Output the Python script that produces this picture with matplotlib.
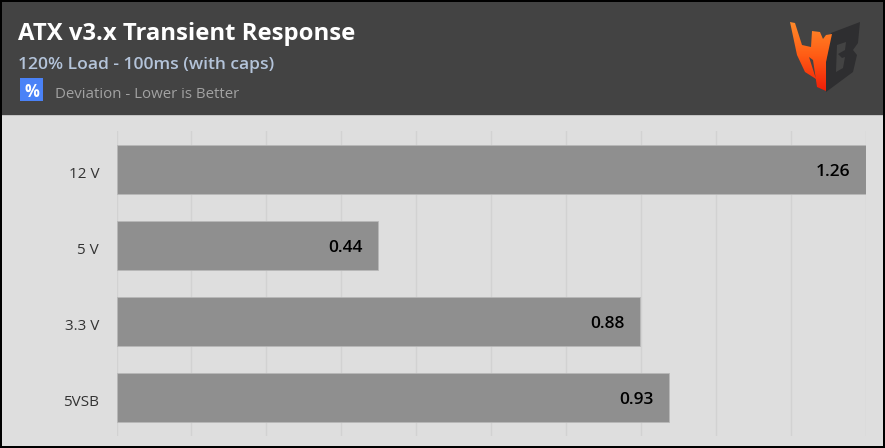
import matplotlib
matplotlib.use('Agg')
import matplotlib.pyplot as plt
from matplotlib.patches import Rectangle, Polygon
from matplotlib.colors import LinearSegmentedColormap
from matplotlib.transforms import ScaledTranslation
import numpy as np

categories = ['12 V', '5 V', '3.3 V', '5VSB']
values = [1.26, 0.44, 0.88, 0.93]
value_labels = ['1.26', '0.44', '0.88', '0.93']
grid_step = 0.126

W, H = 885, 448
FONT = 'Open Sans'
plt.rcParams['font.family'] = [FONT, 'DejaVu Sans']

fig = plt.figure(figsize=(W / 100, H / 100), dpi=100, facecolor='#dedede')

# overlay in pixel coords, top-left origin
bg = fig.add_axes([0, 0, 1, 1], zorder=0)
bg.set_xlim(0, W)
bg.set_ylim(H, 0)
bg.axis('off')
bg.add_patch(Rectangle((0, 0), W, 115, color='#434343', lw=0))
bg.add_patch(Rectangle((0, 115), W, 1, color='#c4c4c4', lw=0))
bg.add_patch(Rectangle((20, 78), 23, 23, color='#4a82f7', lw=0))

bg.text(18, 34, 'ATX v3.x Transient Response', color='white', fontsize=17.2,
        fontweight='bold', va='center', ha='left')
bg.text(18, 65, '120% Load - 100ms (with caps)', color='#b4c4da', fontsize=12.6,
        fontweight='semibold', va='center', ha='left')
bg.text(31.5, 92, '%', color='white', fontsize=12, fontweight='bold', va='center', ha='center')
bg.text(55, 94.5, 'Deviation - Lower is Better', color='#a2a2a2', fontsize=10.85,
        va='center', ha='left')

# logo
h_pts = [(790, 22), (795, 23), (802, 45), (811, 47), (812, 31), (820, 32), (823, 39),
         (826, 35), (832, 34), (826, 62), (826, 91), (817, 87), (813, 60), (809, 57),
         (816, 79), (805, 72), (797, 55)]
b_pts = [(831, 33), (860, 22), (858, 43), (853, 50), (857, 55), (853, 72), (826, 92),
         (826, 62)]
cmap = LinearSegmentedColormap.from_list('logo', ['#ff8a2a', '#ff5a14', '#f01c08'])
grad = np.linspace(0, 1, 64).reshape(-1, 1)
im = bg.imshow(grad, extent=(785, 835, 92, 22), cmap=cmap, aspect='auto', zorder=2)
im.set_clip_path(Polygon(h_pts, closed=True, transform=bg.transData))
bg.add_patch(Polygon(b_pts, closed=True, color='#2e2e30', lw=0, zorder=1))
bg.add_patch(Polygon([(837, 45), (846, 42), (845, 50), (838, 54), (842, 58), (845, 57),
                      (843, 68), (836, 72)], closed=True, color='#434343', lw=0, zorder=1.5))
bg.set_xlim(0, W)
bg.set_ylim(H, 0)

# chart axes
ax = fig.add_axes([116.5 / W, 1 - 435.5 / H, (865.5 - 116.5) / W, (435.5 - 131.5) / H], zorder=1)
ax.patch.set_alpha(0)
y = np.arange(len(categories)) + 0.5
ax.barh(y, values, height=49 / 76, color='#8f8f8f', edgecolor='#b8b8b8', linewidth=0.6, zorder=3)
ax.set_xlim(0, values[0])
ax.set_ylim(len(categories), 0)
ax.set_xticks(np.arange(0, 11) * grid_step)
ax.set_yticks(y)
ax.set_yticklabels(categories, color='#333333', fontsize=11)
ax.tick_params(axis='y', length=0, pad=12.5)
ax.tick_params(axis='x', length=0, labelbottom=False)
ax.grid(axis='x', color='#d2d2d2', linewidth=1, zorder=1)
ax.grid(axis='y', visible=False)
for s in ax.spines.values():
    s.set_visible(False)
for lab in ax.get_yticklabels():
    lab.set_transform(lab.get_transform() + ScaledTranslation(0, -3 / 100, fig.dpi_scale_trans))

for yi, v, lab in zip(y, values, value_labels):
    ax.annotate(lab, (v, yi), xytext=(-11, -2), textcoords='offset points', ha='right', va='center',
                fontsize=12.5, fontweight='semibold', color='black', zorder=4)

# black frame
for r in [(0, 0, W, 2), (0, 0, 2, H), (W - 2, 0, 2, H), (0, H - 2, W, 2)]:
    fig.add_artist(Rectangle((r[0] / W, 1 - (r[1] + r[3]) / H), r[2] / W, r[3] / H,
                             transform=fig.transFigure, color='black', lw=0))

fig.savefig('out.png', dpi=100, facecolor=fig.get_facecolor())
